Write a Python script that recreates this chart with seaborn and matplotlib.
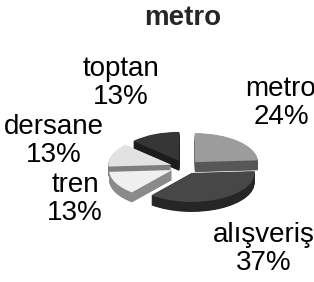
import numpy as np
import matplotlib.pyplot as plt
import seaborn as sns

# Data
categories = ['metro', 'alışveriş', 'tren', 'dersane', 'toptan']
percents = [24, 37, 13, 13, 13]
top_colors = ['#9c9c9c', '#474747', '#f0f0f0', '#e2e2e2', '#363636']
side_colors = ['#575757', '#262626', '#8a8a8a', '#7e7e7e', '#1c1c1c']

# Layout (pixels, origin top-left)
W, H = 314, 282
squash = 0.46           # vertical flattening of the tilted pie
cx, cy = 185, 167       # pie centre
radius = 63
depth = 10
explode = 0.23 * radius  # matplotlib offsets in data units
label_xy = [(281, 103), (264, 249), (75, 199), (54, 141), (121, 83)]

sns.set_style("white")
plt.rcParams['font.family'] = ['Liberation Sans', 'DejaVu Sans']

fig = plt.figure(figsize=(W / 100, H / 100), dpi=100)
ax = fig.add_axes([0, 0, 1, 1])

cy_d = (H - cy) / squash
step = 0.5
n = int(depth / step)
# side walls: stack of shifted pies
for k in range(n, 0, -1):
    ax.pie(percents, colors=side_colors, startangle=90, counterclock=False,
           explode=[explode] * len(percents), radius=radius,
           center=(cx, cy_d - k * step / squash), frame=True,
           wedgeprops=dict(linewidth=0, antialiased=True))
# top faces
ax.pie(percents, colors=top_colors, startangle=90, counterclock=False,
       explode=[explode] * len(percents), radius=radius,
       center=(cx, cy_d), frame=True,
       wedgeprops=dict(linewidth=0))

ax.set_aspect('auto')
ax.set_xlim(0, W)
ax.set_ylim(0, H / squash)
ax.axis('off')

# labels
for name, p, (x, y) in zip(categories, percents, label_xy):
    fig.text(x / W, 1 - y / H, f"{name}\n{p}%", ha='center', va='center',
             fontsize=20, linespacing=1.15, color='black')

fig.text(183 / W, 1 - 25 / H, 'metro', ha='center', va='baseline',
         fontsize=20, fontweight='bold')

fig.savefig('out.png', dpi=100)
